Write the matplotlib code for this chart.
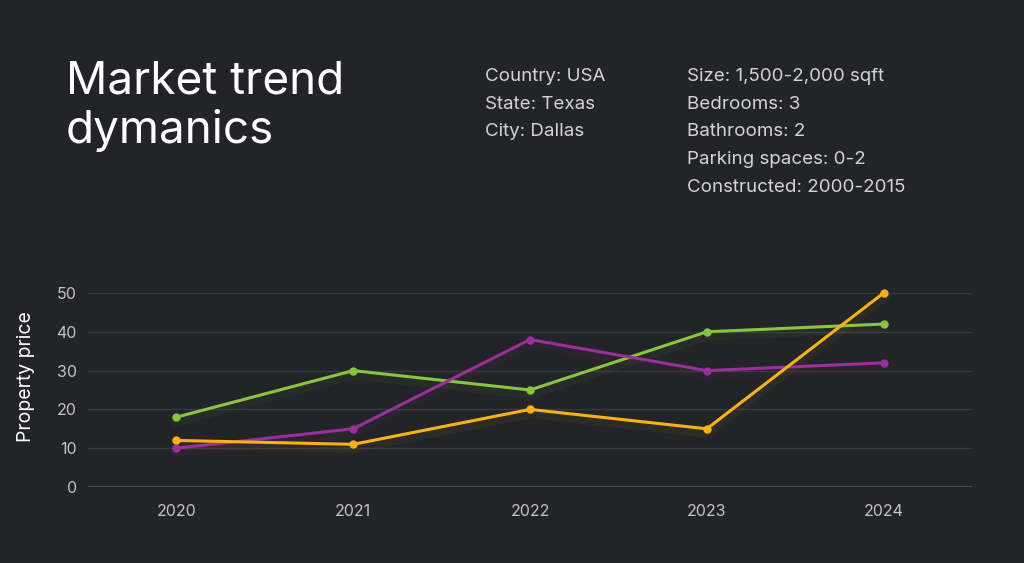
import matplotlib.pyplot as plt
import matplotlib.transforms as mtrans

plt.rcParams["font.family"] = ["Inter", "DejaVu Sans"]

# data
years = ["2020", "2021", "2022", "2023", "2024"]
green_vals = [18, 30, 25, 40, 42]
purple_vals = [10, 15, 38, 30, 32]
yellow_vals = [12, 11, 20, 15, 50]
yticks = [0, 10, 20, 30, 40, 50]

info_left = ["Country: USA", "State: Texas", "City: Dallas"]
info_right = ["Size: 1,500-2,000 sqft", "Bedrooms: 3", "Bathrooms: 2",
              "Parking spaces: 0-2", "Constructed: 2000-2015"]

bg = "#232427"
fig = plt.figure(figsize=(10.24, 5.63), dpi=100, facecolor=bg)

# titel
fig.text(66 / 1024, 1 - 93 / 563, "Market trend", color="white", fontsize=33, va="baseline")
fig.text(66 / 1024, 1 - 143 / 563, "dymanics", color="white", fontsize=33, va="baseline")

for i, t in enumerate(info_left):
    fig.text(485 / 1024, 1 - (77 + i * 27.5) / 563, t, color="#d4d4d4", fontsize=13.5, va="center")
for i, t in enumerate(info_right):
    fig.text(687 / 1024, 1 - (77 + i * 27.5) / 563, t, color="#d4d4d4", fontsize=13.5, va="center")

ax = fig.add_axes([88 / 1024, 1 - 487 / 563, (972 - 88) / 1024, (487 - 293) / 563])
ax.set_facecolor(bg)
x = list(range(len(years)))

skugga = mtrans.offset_copy(ax.transData, fig=fig, x=0, y=-4, units="dots")
serier = [(green_vals, "#8bc53f"), (purple_vals, "#9b2f9e"), (yellow_vals, "#f7b217")]
for vals, col in serier:
    ax.plot(x, vals, color=col, lw=7, alpha=0.05, transform=skugga, zorder=2, clip_on=False)
    ax.plot(x, vals, color=col, lw=2.2, marker="o", ms=5, clip_on=False, zorder=3)

ax.set_xlim(-0.5, 4.5)
ax.set_ylim(0, 50)
ax.set_xticks(x)
ax.set_xticklabels(years)
ax.set_yticks(yticks)
ax.tick_params(colors="#c4c4c4", labelsize=11.5, length=0)
ax.tick_params(axis="x", pad=12)
ax.tick_params(axis="y", pad=8)
for t in yticks[1:]:
    ax.axhline(t, color="#38393d", lw=1, zorder=1)
ax.axhline(0, color="#55565a", lw=1.2, zorder=1)
for s in ax.spines.values():
    s.set_visible(False)
ax.set_ylabel("Property price", color="white", fontsize=14)
ax.yaxis.set_label_coords(-(88 - 35) / 884, 0.57)

plt.savefig("out.png", dpi=100, facecolor=bg)
